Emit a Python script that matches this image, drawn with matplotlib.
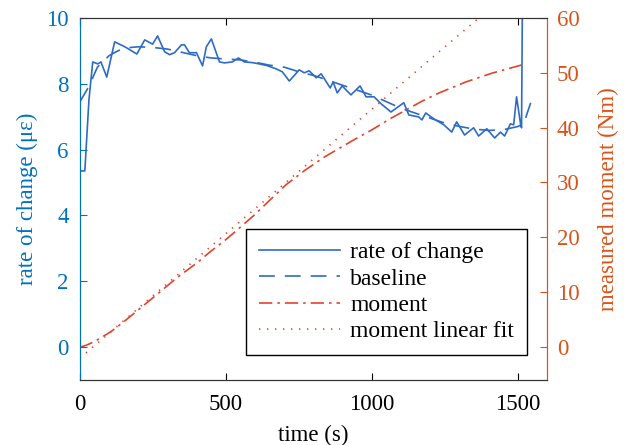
import matplotlib
matplotlib.use('Agg')
import matplotlib.pyplot as plt

plt.rcParams['font.family'] = 'Liberation Serif'
plt.rcParams['font.size'] = 16.5

blue = '#0072BD'
line_blue = '#2C6CC4'
red = '#D95319'
line_red = '#E4432A'

# rate of change (solid)
t_rate = [0, 17, 31, 44, 61, 72, 92, 119, 154, 195, 222, 249, 266, 290, 307, 324,
          348, 358, 375, 399, 420, 433, 450, 478, 495, 522, 543, 563, 590, 614,
          640, 672, 693, 717, 751, 768, 785, 809, 826, 857, 867, 881, 898, 928,
          959, 980, 1007, 1031, 1065, 1109, 1126, 1160, 1171, 1184, 1212, 1246,
          1273, 1290, 1317, 1348, 1365, 1393, 1420, 1440, 1454, 1474, 1485, 1495,
          1509, 1512, 1515]
rate = [5.35, 5.35, 7.5, 8.66, 8.6, 8.66, 8.2, 9.27, 9.12, 8.9, 9.33, 9.2, 9.45,
        8.97, 8.88, 8.94, 9.18, 9.18, 8.94, 8.94, 8.54, 9.12, 9.36, 8.66, 8.63,
        8.66, 8.78, 8.66, 8.64, 8.6, 8.55, 8.45, 8.36, 8.08, 8.42, 8.33, 8.39,
        8.18, 8.3, 7.87, 8.05, 7.72, 7.93, 7.66, 7.93, 7.6, 7.6, 7.39, 7.14,
        7.42, 7.05, 6.99, 6.9, 7.11, 6.93, 6.75, 6.53, 6.84, 6.44, 6.66, 6.41,
        6.63, 6.35, 6.53, 6.41, 6.78, 6.75, 7.6, 6.75, 6.66, 10.5]

# baseline (dashed)
t_base = [0, 30, 60, 100, 120, 150, 200, 250, 300, 350, 400, 450, 500, 550, 600,
          650, 700, 750, 800, 850, 900, 950, 1000, 1050, 1100, 1150, 1200, 1250,
          1300, 1350, 1400, 1450, 1500, 1520, 1535, 1550]
base = [7.45, 7.9, 8.5, 8.85, 8.95, 9.08, 9.12, 9.1, 9.05, 8.95, 8.85, 8.78, 8.75,
        8.72, 8.65, 8.56, 8.5, 8.36, 8.25, 8.1, 7.95, 7.8, 7.65, 7.45, 7.25, 7.1,
        6.95, 6.8, 6.7, 6.62, 6.58, 6.6, 6.7, 6.8, 7.2, 7.6]

# measured moment (dash-dot), Nm
t_mom = [0, 20, 50, 106, 150, 223, 300, 336, 400, 449, 500, 542, 600, 635, 706,
         770, 836, 939, 1000, 1065, 1120, 1171, 1229, 1321, 1410, 1512, 1526]
moment = [0.0, 0.3, 1.0, 2.8, 4.6, 7.8, 11.2, 12.8, 15.3, 17.5, 19.6, 21.5, 24.2,
          26.0, 29.6, 32.2, 34.6, 37.8, 39.6, 41.7, 43.3, 44.8, 46.3, 48.3, 49.9,
          51.4, 51.6]

# linear fit (dotted) end points
t_fit = [0, 1600]
fit = [-2.0, 70.6]

fig = plt.figure(figsize=(6.24, 4.45), dpi=100)
ax1 = fig.add_axes([0.128, 0.146, 0.749, 0.814])
ax2 = ax1.twinx()

l1, = ax1.plot(t_rate, rate, '-', color=line_blue, lw=1.2)
l2, = ax1.plot(t_base, base, '--', color=line_blue, lw=1.2, dashes=(9.5, 6))
l3, = ax2.plot(t_mom, moment, '-.', color=line_red, lw=1.2, dashes=(8, 3, 1.5, 3))
l4, = ax2.plot(t_fit, fit, ':', color=line_red, lw=1.2, dashes=(0.8, 4))

ax1.set_xlim(0, 1600)
ax1.set_ylim(-1, 10)
ax2.set_ylim(-6, 60)
ax1.set_xticks([0, 500, 1000, 1500])
ax1.set_yticks([0, 2, 4, 6, 8, 10])
ax2.set_yticks([0, 10, 20, 30, 40, 50, 60])

ax1.set_xlabel('time (s)', labelpad=7)
ax1.set_ylabel('rate of change (με)', color=blue, labelpad=6)
ax2.set_ylabel('measured moment (Nm)', color=red, labelpad=13)

ax1.tick_params(axis='x', direction='in', top=True, length=5, colors='black', pad=10)
ax1.tick_params(axis='y', direction='in', length=5, colors=blue, pad=8)
ax2.tick_params(axis='y', direction='in', length=5, colors=red, pad=7)

for a in (ax1, ax2):
    a.spines['left'].set_color(blue)
    a.spines['right'].set_color(red)
    a.spines['top'].set_color('#333333')
    a.spines['bottom'].set_color('#333333')

leg = ax2.legend([l1, l2, l3, l4],
                 ['rate of change', 'baseline', 'moment', 'moment linear fit'],
                 loc='lower right', bbox_to_anchor=(0.957, 0.069), borderaxespad=0,
                 fancybox=False, framealpha=1, edgecolor='black', handlelength=3.4,
                 handletextpad=0.45, borderpad=0.55, labelspacing=0.2,
                 fontsize=17)
leg.get_frame().set_linewidth(1.0)

plt.savefig('out.png', dpi=100)
